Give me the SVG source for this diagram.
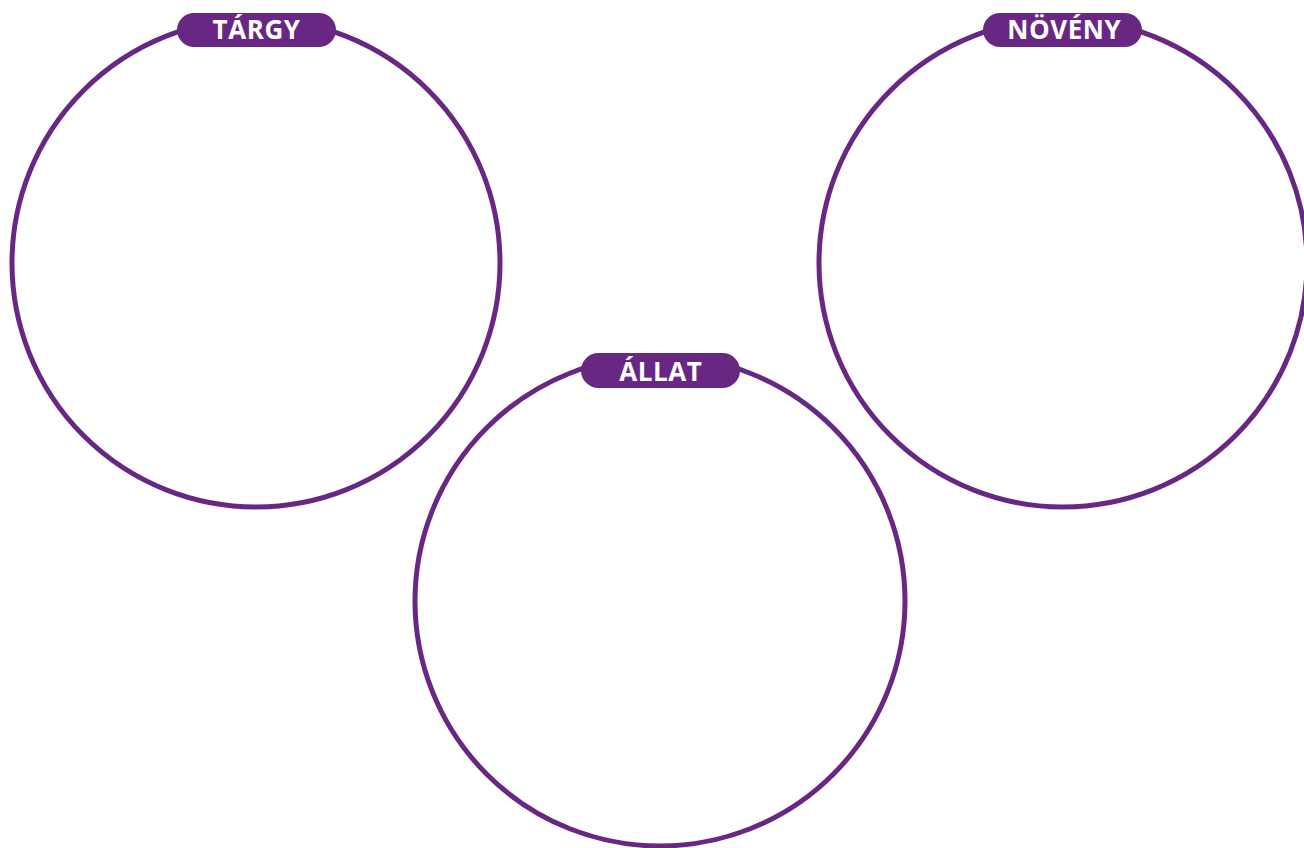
<svg xmlns="http://www.w3.org/2000/svg" width="1304" height="848" viewBox="0 0 1304 848">
<style>
.ring{fill:none;stroke:#692784;stroke-width:5}
.pill{fill:#692784}
.lbl{fill:#ffffff;font-family:"Open Sans","Liberation Sans",sans-serif;font-weight:bold;font-size:26px;letter-spacing:0.6px;text-anchor:middle}
</style>
<rect width="1304" height="848" fill="#ffffff"/>
<g id="targy">
<circle class="ring" cx="256" cy="263" r="244"/>
<rect class="pill" x="177" y="13" width="159" height="34" rx="17"/>
<text class="lbl" x="256.6" y="39">TÁRGY</text>
</g>
<g id="noveny">
<circle class="ring" cx="1063" cy="263" r="244"/>
<rect class="pill" x="983" y="13" width="159" height="34" rx="17"/>
<text class="lbl" x="1064.3" y="39">NÖVÉNY</text>
</g>
<g id="allat">
<circle class="ring" cx="660" cy="601" r="245"/>
<rect class="pill" x="581" y="353" width="159" height="35" rx="17.5"/>
<text class="lbl" x="660.8" y="380.5">ÁLLAT</text>
</g>
<g id="connectors"></g>
</svg>
